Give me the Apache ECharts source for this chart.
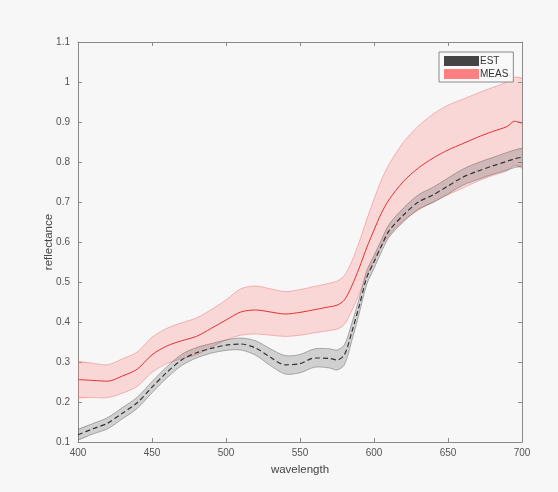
<!DOCTYPE html>
<html>
<head>
<meta charset="utf-8">
<script src="https://cdn.jsdelivr.net/npm/echarts@6/dist/echarts.min.js"></script>
<style>
html,body{margin:0;padding:0;background:#f7f7f7;}
#chart{width:558px;height:492px;}
</style>
</head>
<body>
<div id="chart"></div>
<script>
const wavelength = [400,410,420,430,440,450,460,470,480,490,500,510,520,530,540,550,560,570,575,580,585,590,595,600,605,610,620,630,640,650,660,670,680,690,695,700];
const measMean = [0.256,0.254,0.252,0.265,0.282,0.318,0.340,0.353,0.364,0.384,0.405,0.425,0.430,0.425,0.420,0.424,0.431,0.438,0.442,0.455,0.490,0.535,0.585,0.630,0.672,0.705,0.752,0.785,0.810,0.830,0.846,0.862,0.876,0.889,0.902,0.897];
const measStd = [0.044,0.043,0.041,0.043,0.043,0.044,0.044,0.045,0.046,0.047,0.050,0.058,0.060,0.058,0.056,0.057,0.058,0.059,0.060,0.061,0.062,0.065,0.070,0.077,0.083,0.088,0.098,0.105,0.110,0.112,0.111,0.110,0.110,0.111,0.110,0.112];
const estMean = [0.118,0.133,0.147,0.172,0.198,0.237,0.274,0.305,0.323,0.334,0.342,0.345,0.335,0.312,0.293,0.296,0.310,0.309,0.305,0.318,0.375,0.440,0.510,0.550,0.590,0.627,0.668,0.700,0.718,0.740,0.762,0.777,0.790,0.802,0.808,0.812];
const estStd = [0.013,0.013,0.014,0.014,0.014,0.014,0.014,0.014,0.013,0.012,0.013,0.015,0.018,0.021,0.023,0.023,0.023,0.024,0.025,0.025,0.022,0.019,0.017,0.016,0.015,0.016,0.017,0.018,0.019,0.020,0.020,0.021,0.021,0.022,0.022,0.022];
const seriesNames = ['EST','MEAS'];
const xLabel = 'wavelength';
const yLabel = 'reflectance';

function bandSeries(name, mean, std, fill, stroke, legendColor, z) {
  return {
    name: name,
    type: 'custom',
    silent: true,
    z: z,
    itemStyle: {color: legendColor},
    data: [[wavelength[0], mean[0]]],
    renderItem: function (params, api) {
      const up = [], lo = [];
      for (let i = 0; i < wavelength.length; i++) {
        up.push(api.coord([wavelength[i], mean[i] + std[i]]));
        lo.push(api.coord([wavelength[i], mean[i] - std[i]]));
      }
      lo.reverse();
      const poly = up.concat(lo);
      return {type: 'group', children: [
        {type: 'polygon', shape: {points: poly, smooth: 0.3, smoothConstraint: [[78, 42], [522, 442]]}, style: {fill: fill, stroke: null}},
        {type: 'polyline', shape: {points: up, smooth: 0.3}, style: {fill: null, stroke: stroke, lineWidth: 1}},
        {type: 'polyline', shape: {points: lo, smooth: 0.3}, style: {fill: null, stroke: stroke, lineWidth: 1}}
      ]};
    }
  };
}
function pairs(mean) { return wavelength.map((w, i) => [w, mean[i]]); }

const axisCommon = {
  axisLine: {show: true, lineStyle: {color: '#8a8a8a', width: 1}},
  axisTick: {show: true, inside: true, length: 4, lineStyle: {color: '#8a8a8a'}},
  splitLine: {show: false}
};
const labelStyle = {color: '#555', fontSize: 10, fontFamily: 'Liberation Sans, Arial, sans-serif'};
const nameStyle = {color: '#444', fontSize: 11.5, fontFamily: 'Liberation Sans, Arial, sans-serif'};

const chart = echarts.init(document.getElementById('chart'), null, {renderer: 'canvas'});
chart.setOption({
  backgroundColor: '#f7f7f7',
  animation: false,
  grid: {left: 78, right: 36, top: 42, bottom: 50, containLabel: false},
  legend: {
    data: seriesNames,
    orient: 'vertical',
    left: 439, top: 52,
    icon: 'rect',
    itemWidth: 35, itemHeight: 10,
    itemGap: 3,
    padding: [4, 5, 3, 5],
    borderColor: '#8a8a8a', borderWidth: 1,
    backgroundColor: '#f9f9f9',
    textStyle: {color: '#333', fontSize: 10, fontFamily: 'Liberation Sans, Arial, sans-serif', padding: [0, 0, 0, -4]},
    selectedMode: false
  },
  xAxis: [
    Object.assign({type: 'value', min: 400, max: 700, interval: 50, position: 'bottom',
      name: xLabel, nameLocation: 'middle', nameGap: 22, nameMoveOverlap: false, nameTextStyle: nameStyle,
      axisLabel: Object.assign({margin: 6}, labelStyle)}, axisCommon),
    Object.assign({type: 'value', min: 400, max: 700, interval: 50, position: 'top',
      axisLabel: {show: false}}, axisCommon)
  ],
  yAxis: [
    Object.assign({type: 'value', min: 0.1, max: 1.1, interval: 0.1, position: 'left',
      name: yLabel, nameLocation: 'middle', nameGap: 23, nameMoveOverlap: false, nameTextStyle: nameStyle,
      axisLabel: Object.assign({margin: 8}, labelStyle)}, axisCommon),
    Object.assign({type: 'value', min: 0.1, max: 1.1, interval: 0.1, position: 'right',
      axisLabel: {show: false}}, axisCommon)
  ],
  series: [
    bandSeries('EST', estMean, estStd, 'rgba(90,90,90,0.25)', 'rgba(90,90,90,0.45)', '#444444', 2),
    bandSeries('MEAS', measMean, measStd, 'rgba(255,120,120,0.25)', 'rgba(235,110,110,0.45)', '#ff8080', 1),
    {name: 'MEAS mean', type: 'line', data: pairs(measMean), showSymbol: false, symbol: 'none', z: 3, smooth: 0.3,
      lineStyle: {color: '#e53030', width: 1}, silent: true},
    {name: 'EST mean', type: 'line', data: pairs(estMean), showSymbol: false, symbol: 'none', z: 4, smooth: 0.3,
      lineStyle: {color: '#333333', width: 1.2, type: [5, 3]}, silent: true}
  ]
});
</script>
</body>
</html>
